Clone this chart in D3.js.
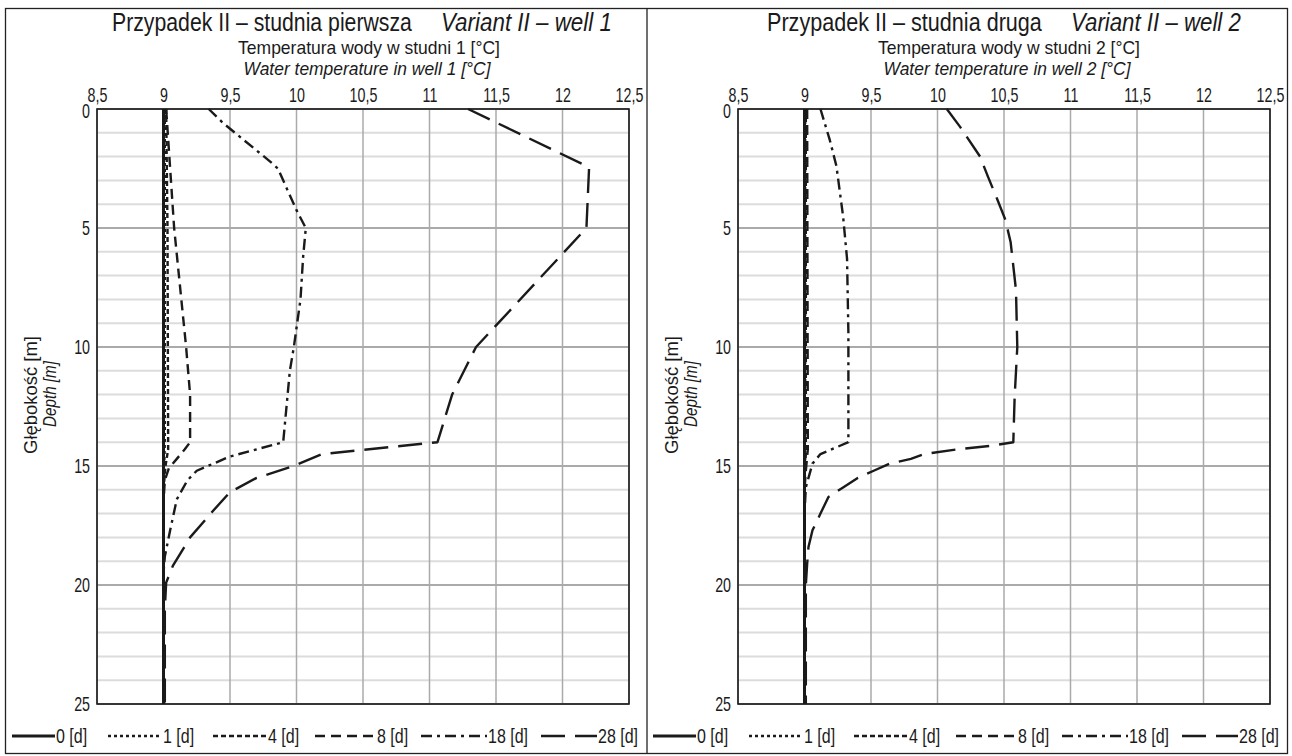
<!DOCTYPE html>
<html>
<head>
<meta charset="utf-8">
<script src="https://cdn.jsdelivr.net/npm/d3@7"></script>
<style>
  html, body { margin: 0; padding: 0; background: #fff; }
  svg { display: block; }
  text { font-family: "Liberation Sans", Arial, sans-serif; fill: #1a1a1a; }
</style>
</head>
<body>
<svg id="chart" width="1292" height="756"></svg>
<script>
// ---------- DATA ----------
const xTicks = [8.5, 9, 9.5, 10, 10.5, 11, 11.5, 12, 12.5];
const yMajorTicks = [0, 5, 10, 15, 20, 25];
const yMinorTicks = d3.range(0, 26, 1);
const seriesNames = ["0 [d]", "1 [d]", "4 [d]", "8 [d]", "18 [d]", "28 [d]"];

// well 1 : [depth m, temperature °C]
const w1_0d  = [[0, 9.0], [25, 9.0]];
const w1_1d  = [[0, 9.01], [14, 9.01], [15, 9.005], [16, 9.0], [25, 9.0]];
const w1_4d  = [[0, 9.02], [5, 9.03], [14.3, 9.035], [15, 9.015], [16, 9.0], [25, 9.0]];
const w1_8d  = [[0, 9.02], [5, 9.08], [10, 9.17], [12, 9.2], [14, 9.2], [14.3, 9.16], [14.7, 9.1], [15.1, 9.04], [15.6, 9.01], [16.5, 9.0], [25, 9.0]];
const w1_18d = [[0, 9.34], [0.6, 9.45], [2.2, 9.8], [2.5, 9.86], [4.25, 10.0], [5, 10.07], [6.2, 10.05], [8, 10.03], [10, 9.98], [11, 9.95], [14, 9.9], [14.6, 9.5], [15.2, 9.25], [15.6, 9.18], [16.4, 9.1], [17.7, 9.05], [18.8, 9.01], [19.5, 9.0], [25, 9.0]];
const w1_28d = [[0, 11.29], [2.45, 12.2], [5, 12.18], [10, 11.35], [12, 11.17], [14, 11.06], [14.5, 10.19], [15, 9.98], [15.5, 9.7], [16.1, 9.5], [16.9, 9.37], [18, 9.2], [19.2, 9.07], [19.9, 9.02], [21, 9.01], [25, 9.01]];

// well 2 : [depth m, temperature °C]
const w2_0d  = [[0, 9.0], [25, 9.0]];
const w2_1d  = [[0, 9.005], [15, 9.005], [16, 9.0], [25, 9.0]];
const w2_4d  = [[0, 9.01], [14.5, 9.01], [15.5, 9.0], [25, 9.0]];
const w2_8d  = [[0, 9.02], [14.3, 9.025], [15.2, 9.01], [16, 9.0], [25, 9.0]];
const w2_18d = [[0, 9.12], [1.3, 9.19], [2.4, 9.24], [4.5, 9.29], [6.3, 9.32], [9.4, 9.33], [14, 9.33], [14.5, 9.12], [14.9, 9.06], [15.5, 9.03], [15.9, 9.01], [17, 9.0], [25, 9.0]];
const w2_28d = [[0, 10.07], [0.75, 10.17], [2, 10.32], [2.85, 10.38], [3.8, 10.45], [4.65, 10.51], [5.6, 10.55], [7.6, 10.59], [10, 10.6], [12.1, 10.58], [14, 10.57], [14.15, 10.4], [14.3, 10.15], [14.5, 9.9], [14.7, 9.8], [14.9, 9.64], [15.2, 9.52], [15.5, 9.4], [15.9, 9.29], [16.3, 9.18], [17, 9.12], [17.7, 9.06], [18.4, 9.03], [19.1, 9.02], [20, 9.01], [25, 9.01]];

const titlesPL = ["Przypadek II – studnia pierwsza", "Przypadek II – studnia druga"];
const titlesEN = ["Variant II – well 1", "Variant II – well 2"];
const axisPL = ["Temperatura wody w studni 1 [°C]", "Temperatura wody w studni 2 [°C]"];
const axisEN = ["Water temperature in well 1 [°C]", "Water temperature in well 2 [°C]"];
const yLabelPL = "Głębokość [m]";
const yLabelEN = "Depth [m]";

// ---------- STYLE / LAYOUT ----------
const dashes = [null, "3,3", "5,3", "10,6", "11,5,3,5", "24,10"];
const widths = [3, 2.4, 2.4, 2.4, 2.4, 2.4];
const lineColor = "#1a1a1a";

const panels = [
  { left: 97, data: [w1_0d, w1_1d, w1_4d, w1_8d, w1_18d, w1_28d],
    titlePL: { x: 112, len: 300 }, titleEN: { x: 441, len: 171 },
    subCx: 369 },
  { left: 738, data: [w2_0d, w2_1d, w2_4d, w2_8d, w2_18d, w2_28d],
    titlePL: { x: 767, len: 275 }, titleEN: { x: 1071, len: 170 },
    subCx: 1009 }
];
const plotW = 532, plotTop = 109, plotBottom = 704;

const svg = d3.select("#chart");

// horizontally squeeze a text (factor k, or to a target width) with a transform
function squeeze(sel, k, target) {
  sel.each(function () {
    const L = this.getComputedTextLength();
    const s = target ? target / L : k;
    const x = +(this.getAttribute("x") || 0);
    const y = +(this.getAttribute("y") || 0);
    const prev = this.getAttribute("transform") || "";
    d3.select(this).attr("x", 0).attr("y", 0)
      .attr("transform", `${prev} translate(${x},${y}) scale(${s},1)`);
  });
}

// outer frame
svg.append("rect").attr("x", 5.5).attr("y", 8.5).attr("width", 1282).attr("height", 745)
  .attr("fill", "none").attr("stroke", "#222").attr("stroke-width", 1.3);
svg.append("line").attr("x1", 647).attr("x2", 647).attr("y1", 8.5).attr("y2", 753.5)
  .attr("stroke", "#222").attr("stroke-width", 1.3);

const fmt = d => String(d).replace(".", ",");

panels.forEach((p, pi) => {
  const x = d3.scaleLinear().domain([8.5, 12.5]).range([p.left, p.left + plotW]);
  const y = d3.scaleLinear().domain([0, 25]).range([plotTop, plotBottom]);
  const g = svg.append("g");

  // minor horizontal grid
  g.selectAll(".minor").data(yMinorTicks.filter(d => d % 5 !== 0)).join("line")
    .attr("x1", x(8.5)).attr("x2", x(12.5)).attr("y1", d => y(d)).attr("y2", d => y(d))
    .attr("stroke", "#dcdcdc").attr("stroke-width", 2);
  // major horizontal grid
  g.selectAll(".major").data(yMajorTicks).join("line")
    .attr("x1", x(8.5)).attr("x2", x(12.5)).attr("y1", d => y(d)).attr("y2", d => y(d))
    .attr("stroke", "#aaaaaa").attr("stroke-width", 2);
  // vertical grid
  g.selectAll(".vg").data(xTicks).join("line")
    .attr("x1", d => x(d)).attr("x2", d => x(d)).attr("y1", plotTop).attr("y2", plotBottom)
    .attr("stroke", "#aaaaaa").attr("stroke-width", 1.5);

  // axes
  const xAxis = d3.axisTop(x).tickValues(xTicks).tickFormat(fmt).tickSize(0).tickPadding(7);
  const xa = g.append("g").attr("transform", `translate(0,${plotTop})`).call(xAxis);
  xa.select(".domain").remove();
  xa.selectAll("text").attr("font-size", 21).attr("fill", "#1a1a1a").call(squeeze, 0.68);

  const yAxis = d3.axisLeft(y).tickValues(yMajorTicks).tickFormat(fmt).tickSize(0).tickPadding(7);
  const ya = g.append("g").attr("transform", `translate(${p.left},0)`).call(yAxis);
  ya.select(".domain").remove();
  ya.selectAll("text").attr("font-size", 21).attr("fill", "#1a1a1a").call(squeeze, 0.68);
  ya.selectAll("text").filter(d => d === 0).attr("dy", "0.42em");

  // plot border
  g.append("rect").attr("x", x(8.5)).attr("y", plotTop).attr("width", plotW).attr("height", plotBottom - plotTop)
    .attr("fill", "none").attr("stroke", "#1a1a1a").attr("stroke-width", 1.6);

  // data lines
  const line = d3.line().x(d => x(d[1])).y(d => y(d[0]));
  p.data.forEach((s, si) => {
    g.append("path").datum(s).attr("d", line)
      .attr("fill", "none").attr("stroke", lineColor).attr("stroke-width", widths[si])
      .attr("stroke-dasharray", dashes[si]).attr("stroke-linejoin", "round");
  });

  // titles
  g.append("text").attr("x", p.titlePL.x).attr("y", 31).attr("font-size", 26)
    .text(titlesPL[pi]).call(squeeze, 1, p.titlePL.len);
  g.append("text").attr("x", p.titleEN.x).attr("y", 31).attr("font-size", 26).attr("font-style", "italic")
    .text(titlesEN[pi]).call(squeeze, 1, p.titleEN.len);

  g.append("text").attr("x", p.subCx).attr("y", 54).attr("text-anchor", "middle").attr("font-size", 18)
    .text(axisPL[pi]).call(squeeze, 1, 262);
  g.append("text").attr("x", p.subCx - 2).attr("y", 75).attr("text-anchor", "middle").attr("font-size", 18)
    .attr("font-style", "italic").text(axisEN[pi]).call(squeeze, 1, 247);

  // y label
  const ymid = 395;
  g.append("text").attr("transform", `translate(${p.left - 60},${ymid}) rotate(-90)`)
    .attr("text-anchor", "middle").attr("font-size", 19).text(yLabelPL).call(squeeze, 1, 118);
  g.append("text").attr("transform", `translate(${p.left - 41},${ymid - 1}) rotate(-90)`)
    .attr("text-anchor", "middle").attr("font-size", 19).attr("font-style", "italic").text(yLabelEN).call(squeeze, 1, 66);

  // legend
  const off = p.left - 97;
  const legItems = [
    { x1: 12, x2: 55 }, { x1: 108, x2: 162 }, { x1: 213, x2: 267 },
    { x1: 315, x2: 376 }, { x1: 421, x2: 487 }, { x1: 541, x2: 597 }
  ];
  const ly = 736;
  legItems.forEach((li, i) => {
    g.append("line").attr("x1", li.x1 + off).attr("x2", li.x2 + off).attr("y1", ly).attr("y2", ly)
      .attr("stroke", lineColor).attr("stroke-width", widths[i]).attr("stroke-dasharray", dashes[i]);
    g.append("text").attr("x", li.x2 + off + 1).attr("y", ly + 7).attr("font-size", 20)
      .text(seriesNames[i]).call(squeeze, 0.8);
  });
});
</script>
</body>
</html>
